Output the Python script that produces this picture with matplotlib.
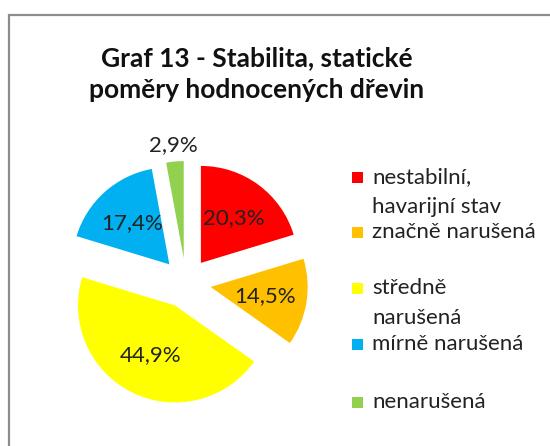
import numpy as np
import matplotlib.pyplot as plt
from matplotlib.patches import Rectangle

plt.rcParams['font.family'] = ['Lato', 'DejaVu Sans']

labels = ['nestabilní,\nhavarijní stav', 'značně narušená', 'středně\nnarušená',
          'mírně narušená', 'nenarušená']
values = [20.3, 14.5, 44.9, 17.4, 2.9]
colors = ['#FF0000', '#FFC000', '#FFFF00', '#00B0F0', '#92D050']

W, H = 550, 446
fig = plt.figure(figsize=(W / 100, H / 100), dpi=100)

# outer chart border (runs off the right/bottom edge like the source crop)
fig.add_artist(Rectangle((8.5 / W, -0.1), 1.2, (H - 15) / H + 0.1,
                         transform=fig.transFigure, fill=False,
                         edgecolor='#8c8c8c', linewidth=1.6))

fig.text(257 / W, 1 - 74 / H, 'Graf 13 - Stabilita, statické\npoměry hodnocených dřevin',
         ha='center', va='center', fontsize=19, fontweight='bold', linespacing=1.4,
         color='#111111')

# pie axes: centre at (186, 283) px, 100 px per unit
ax = fig.add_axes([(186 - 150) / W, (H - 283 - 150) / H, 300 / W, 300 / H])

wedges, texts, autotexts = ax.pie(
    values, colors=colors, startangle=90, counterclock=False, radius=0.97,
    explode=[0.25] * len(values), autopct=lambda p: f'{p:.1f}%'.replace('.', ','),
    pctdistance=0.57, textprops={'fontsize': 16, 'color': '#222222'})
ax.set_xlim(-1.5, 1.5)
ax.set_ylim(-1.5, 1.5)
ax.axis('off')

# small slice label sits outside
w = wedges[-1]
ang = np.deg2rad((w.theta1 + w.theta2) / 2)
cx, cy = w.center
autotexts[-1].set_position((cx + 1.17 * 0.97 * np.cos(ang), cy + 1.17 * 0.97 * np.sin(ang)))

# legend drawn by hand
ys = [177, 232, 288, 344, 402]
for lab, col, y in zip(labels, colors, ys):
    fig.add_artist(Rectangle((352 / W, 1 - (y + 5.5) / H), 11 / W, 11 / H,
                             transform=fig.transFigure, facecolor=col, edgecolor='none'))
    for k, line in enumerate(lab.split('\n')):
        fig.text(372 / W, 1 - (y + 30 * k) / H, line, ha='left', va='center',
                 fontsize=16, color='#222222')

fig.savefig('out.png', dpi=100)
